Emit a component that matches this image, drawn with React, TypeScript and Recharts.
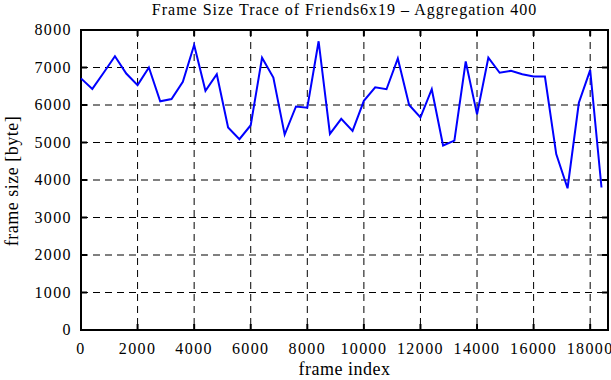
import React from 'react';
import { LineChart, Line, XAxis, YAxis, CartesianGrid, ReferenceArea } from 'recharts';

// frame index, every 400 frames
const FRAME_STEP = 400;
const FRAME_SIZES = [
  6710, 6430, 6860, 7300, 6840, 6530, 7000, 6100, 6160, 6620,
  7600, 6380, 6820, 5400, 5090, 5460, 7260, 6730, 5210, 5960,
  5930, 7700, 5230, 5630, 5310, 6110, 6470, 6420, 7240, 6000,
  5670, 6420, 4920, 5050, 7160, 5750, 7260, 6860, 6910, 6820,
  6760, 6760, 4690, 3780, 6060, 6930, 3800,
];
const X_TICKS = [0, 2000, 4000, 6000, 8000, 10000, 12000, 14000, 16000, 18000];
const Y_TICKS = [0, 1000, 2000, 3000, 4000, 5000, 6000, 7000, 8000];
const X_MAX = 18630;
const Y_MAX = 8000;

const data = FRAME_SIZES.map((v, i) => ({ frame: i * FRAME_STEP, size: v }));

const PLOT_LEFT = 81;
const PLOT_RIGHT = 608;
const PLOT_TOP = 30;
const PLOT_BOTTOM = 330;
const FONT = '"Liberation Serif", "DejaVu Serif", serif';

function XTick({ x, payload }: any) {
  return (
    <g>
      <line x1={x} x2={x} y1={PLOT_BOTTOM} y2={PLOT_BOTTOM - 6} stroke="#000" strokeWidth={2} />
      <line x1={x} x2={x} y1={PLOT_TOP} y2={PLOT_TOP + 6} stroke="#000" strokeWidth={2} />
      <text x={x} y={354} textAnchor="middle" fontSize={16} letterSpacing={1.4} fontFamily={FONT} fill="#000">{payload.value}</text>
    </g>
  );
}

function YTick({ y, payload }: any) {
  return (
    <g>
      <line x1={PLOT_LEFT} x2={PLOT_LEFT + 6} y1={y} y2={y} stroke="#000" strokeWidth={2} />
      <line x1={PLOT_RIGHT} x2={PLOT_RIGHT - 6} y1={y} y2={y} stroke="#000" strokeWidth={2} />
      <text x={72} y={y + 5} textAnchor="end" fontSize={16} letterSpacing={1.4} fontFamily={FONT} fill="#000">{payload.value}</text>
    </g>
  );
}

export default function App() {
  return (
    <div style={{ position: 'absolute', left: 0, top: 0, width: 611, height: 380, background: '#fff', fontFamily: FONT }}>
      <LineChart
        width={611}
        height={380}
        data={data}
        margin={{ top: PLOT_TOP, right: 611 - PLOT_RIGHT, bottom: 0, left: 0 }}
      >
        <CartesianGrid stroke="#000" strokeDasharray="7 5" strokeWidth={1} horizontalValues={Y_TICKS} verticalValues={X_TICKS} />
        <XAxis
          dataKey="frame"
          type="number"
          domain={[0, X_MAX]}
          ticks={X_TICKS}
          height={380 - PLOT_BOTTOM}
          axisLine={false}
          tickLine={false}
          tick={<XTick />}
          interval={0}
        />
        <YAxis
          type="number"
          domain={[0, Y_MAX]}
          ticks={Y_TICKS}
          width={PLOT_LEFT}
          axisLine={false}
          tickLine={false}
          tick={<YTick />}
          interval={0}
        />
        <ReferenceArea x1={0} x2={X_MAX} y1={0} y2={Y_MAX} fill="none" stroke="#000" strokeWidth={2} fillOpacity={0} />
        <Line
          type="linear"
          dataKey="size"
          stroke="#0000ff"
          strokeWidth={2}
          dot={false}
          isAnimationActive={false}
        />
      </LineChart>
      <div style={{ position: 'absolute', left: PLOT_LEFT, width: PLOT_RIGHT - PLOT_LEFT, top: 1, textAlign: 'center', fontSize: 16, letterSpacing: 1 }}>
        Frame Size Trace of Friends6x19 – Aggregation 400
      </div>
      <div style={{ position: 'absolute', left: PLOT_LEFT, width: PLOT_RIGHT - PLOT_LEFT, top: 359, textAlign: 'center', fontSize: 18, letterSpacing: 0.5 }}>
        frame index
      </div>
      <div
        style={{
          position: 'absolute', left: 12, top: 181, width: 200, marginLeft: -100, marginTop: -10,
          textAlign: 'center', fontSize: 18, letterSpacing: 0.5, transform: 'rotate(-90deg)', lineHeight: '20px',
        }}
      >
        frame size [byte]
      </div>
    </div>
  );
}
